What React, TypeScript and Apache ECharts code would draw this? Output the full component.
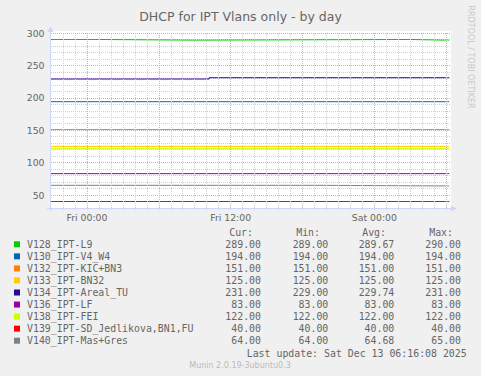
import React, { useEffect, useRef } from 'react';
import * as echarts from 'echarts';

const TITLE = 'DHCP for IPT Vlans only - by day';
const WATERMARK = 'RRDTOOL / TOBI OETIKER';
const FOOTER = 'Munin 2.0.19-3ubuntu0.3';
const LAST_UPDATE = 'Last update: Sat Dec 13 06:16:08 2025';

// x values are hours relative to Fri 00:00
const X_MIN = -3;
const X_MAX = 30.4;
const Y_MIN = 30;
const Y_MAX = 300;
const xTickHours = [0, 12, 24];
const xTickLabels = ['Fri 00:00', 'Fri 12:00', 'Sat 00:00'];
const xMajorHours = [0, 6, 12, 18, 24, 30];
const yMajorValues = [50, 100, 150, 200, 250, 300];

const seriesNames = [
  'V128_IPT-L9',
  'V130_IPT-V4_W4',
  'V132_IPT-KIC+BN3',
  'V133_IPT-BN32',
  'V134_IPT-Areal_TU',
  'V136_IPT-LF',
  'V138_IPT-FEI',
  'V139_IPT-SD_Jedlikova,BN1,FU',
  'V140_IPT-Mas+Gres',
];
const seriesColors = ['#00CC00', '#0066B3', '#FF8000', '#FFCC00', '#330099', '#990099', '#CCFF00', '#FF0000', '#808080'];

// step-change points (hour, value) for each series
const v128Hours = [-3, 0.95, 9.05, 27.0, 29.92];
const v128Values = [290, 289, 290, 289, 289];
const v130Hours = [-3, 29.92];
const v130Values = [194, 194];
const v132Hours = [-3, 29.92];
const v132Values = [151, 151];
const v133Hours = [-3, 29.92];
const v133Values = [125, 125];
const v134Hours = [-3, 10.2, 29.92];
const v134Values = [229, 231, 231];
const v136Hours = [-3, 29.92];
const v136Values = [83, 83];
const v138Hours = [-3, 29.92];
const v138Values = [122, 122];
const v139Hours = [-3, 29.92];
const v139Values = [40, 40];
const v140Hours = [-3, 19.3, 29.92];
const v140Values = [65, 64, 64];

const seriesHours = [v128Hours, v130Hours, v132Hours, v133Hours, v134Hours, v136Hours, v138Hours, v139Hours, v140Hours];
const seriesValues = [v128Values, v130Values, v132Values, v133Values, v134Values, v136Values, v138Values, v139Values, v140Values];

// last isolated sample after the gap
const lastSampleHours = [30.08, 30.25];

const curValues = [289, 194, 151, 125, 231, 83, 122, 40, 64];
const minValues = [289, 194, 151, 125, 229, 83, 122, 40, 64];
const avgValues = [289.67, 194, 151, 125, 229.74, 83, 122, 40, 64.68];
const maxValues = [290, 194, 151, 125, 231, 83, 122, 40, 65];
const statHeaders = ['Cur:', 'Min:', 'Avg:', 'Max:'];

const FONT = '"DejaVu Sans", sans-serif';
const MONO = '"DejaVu Sans Mono", monospace';
const TEXT = '#666666';
const AXIS = '#CFD6F8';
const MINOR = '#D0D0D0';
const MAJOR = '#F2A0A0';

export default function App() {
  const ref = useRef<HTMLDivElement>(null);
  useEffect(() => {
    if (!ref.current) return;
    const chart = echarts.init(ref.current, undefined, { renderer: 'svg' });

    const xMinorHours: number[] = [];
    for (let h = Math.ceil(X_MIN) + 1; h <= Math.floor(X_MAX); h++) xMinorHours.push(h);

    const series: any[] = [];
    series.push({
      type: 'line', data: [], silent: true, z: 1,
      markLine: { silent: true, symbol: 'none', label: { show: false }, lineStyle: { color: MINOR, width: 1, type: [1, 1] }, data: xMinorHours.map((h) => ({ xAxis: h })) },
    });
    series.push({
      type: 'line', data: [], silent: true, z: 1,
      markLine: {
        silent: true, symbol: 'none', label: { show: false },
        lineStyle: { color: MAJOR, width: 1, type: [1, 1] },
        data: [...yMajorValues.map((v) => ({ yAxis: v })), ...xMajorHours.map((h) => ({ xAxis: h }))],
      },
    });
    seriesNames.forEach((name, i) => {
      const pts: any[] = seriesHours[i].map((h, j) => [h, seriesValues[i][j]]);
      pts.push([(seriesHours[i][seriesHours[i].length - 1] + lastSampleHours[0]) / 2, '-']);
      lastSampleHours.forEach((h) => pts.push([h, curValues[i]]));
      series.push({
        name, type: 'line', step: 'end', data: pts, showSymbol: false, symbol: 'none', silent: true, connectNulls: false, z: 3,
        lineStyle: { color: seriesColors[i], width: 1 }, itemStyle: { color: seriesColors[i] },
      });
    });

    const graphic: any[] = [
      { type: 'rect', z: -10, shape: { x: 51, y: 31, width: 400, height: 177 }, style: { fill: '#FFFFFF' } },
      { type: 'line', z: 50, shape: { x1: 50.5, y1: 211, x2: 50.5, y2: 30 }, style: { stroke: AXIS, lineWidth: 1 } },
      { type: 'polygon', z: 50, shape: { points: [[47.5, 32], [53.5, 32], [50.5, 26]] }, style: { fill: AXIS } },
      { type: 'line', z: 50, shape: { x1: 47, y1: 208.5, x2: 452, y2: 208.5 }, style: { stroke: AXIS, lineWidth: 1 } },
      { type: 'polygon', z: 50, shape: { points: [[451, 205.5], [451, 211.5], [457, 208.5]] }, style: { fill: AXIS } },
      { type: 'text', x: 470, y: 57, rotation: -Math.PI / 2, style: { text: WATERMARK, font: `8px ${FONT}`, fill: '#C8C8C8', align: 'center', verticalAlign: 'middle' } },
      { type: 'text', x: 240, y: 365, style: { text: FOOTER, font: `8px ${FONT}`, fill: '#BBBBBB', align: 'center', verticalAlign: 'middle' } },
      { type: 'text', x: 466.7, y: 353, style: { text: LAST_UPDATE, font: `9.9px ${MONO}`, fill: TEXT, align: 'right', verticalAlign: 'middle' } },
    ];
    const headerRight = [253, 320, 386, 453];
    const colRight = [261, 328.3, 394.3, 461];
    statHeaders.forEach((h, k) => {
      graphic.push({ type: 'text', x: headerRight[k], y: 232, style: { text: h, font: `9.9px ${MONO}`, fill: TEXT, align: 'right', verticalAlign: 'middle' } });
    });
    seriesNames.forEach((name, i) => {
      const y = 244.3 + 12.05 * i;
      graphic.push({ type: 'rect', shape: { x: 14, y: y - 3, width: 6, height: 6 }, style: { fill: seriesColors[i] } });
      graphic.push({ type: 'text', x: 27, y, style: { text: name, font: `9.9px ${MONO}`, fill: TEXT, align: 'left', verticalAlign: 'middle' } });
      [curValues, minValues, avgValues, maxValues].forEach((arr, k) => {
        graphic.push({ type: 'text', x: colRight[k], y, style: { text: arr[i].toFixed(2), font: `9.9px ${MONO}`, fill: TEXT, align: 'right', verticalAlign: 'middle' } });
      });
    });

    chart.setOption({
      animation: false,
      backgroundColor: '#F0F0F0',
      title: { text: TITLE, left: 'center', top: 5, textStyle: { fontFamily: FONT, fontSize: 12.5, fontWeight: 'normal', color: TEXT } },
      grid: { left: 51, top: 33, width: 400, height: 175, containLabel: false },
      xAxis: {
        type: 'value', min: X_MIN, max: X_MAX, interval: 1,
        axisLine: { show: false },
        axisTick: { show: true, length: 2, lineStyle: { color: AXIS } },
        splitLine: { show: false },
        axisLabel: {
          margin: 5, fontFamily: FONT, fontSize: 9.3, color: TEXT,
          formatter: (v: number) => { const idx = xTickHours.indexOf(Math.round(v * 1000) / 1000); return idx >= 0 ? xTickLabels[idx] : ''; },
        },
      },
      yAxis: {
        type: 'value', min: Y_MIN, max: Y_MAX, interval: 10,
        axisLine: { show: false },
        axisTick: { show: true, length: 2, lineStyle: { color: AXIS } },
        splitLine: { show: true, lineStyle: { color: MINOR, width: 1, type: [1, 1] } },
        axisLabel: { margin: 6.5, fontFamily: FONT, fontSize: 9.3, color: TEXT, formatter: (v: number) => (yMajorValues.indexOf(v) >= 0 ? String(v) : '') },
      },
      series,
      graphic,
    });
    return () => chart.dispose();
  }, []);
  return <div ref={ref} style={{ position: 'absolute', left: 0, top: 0, width: 481, height: 376 }} />;
}
